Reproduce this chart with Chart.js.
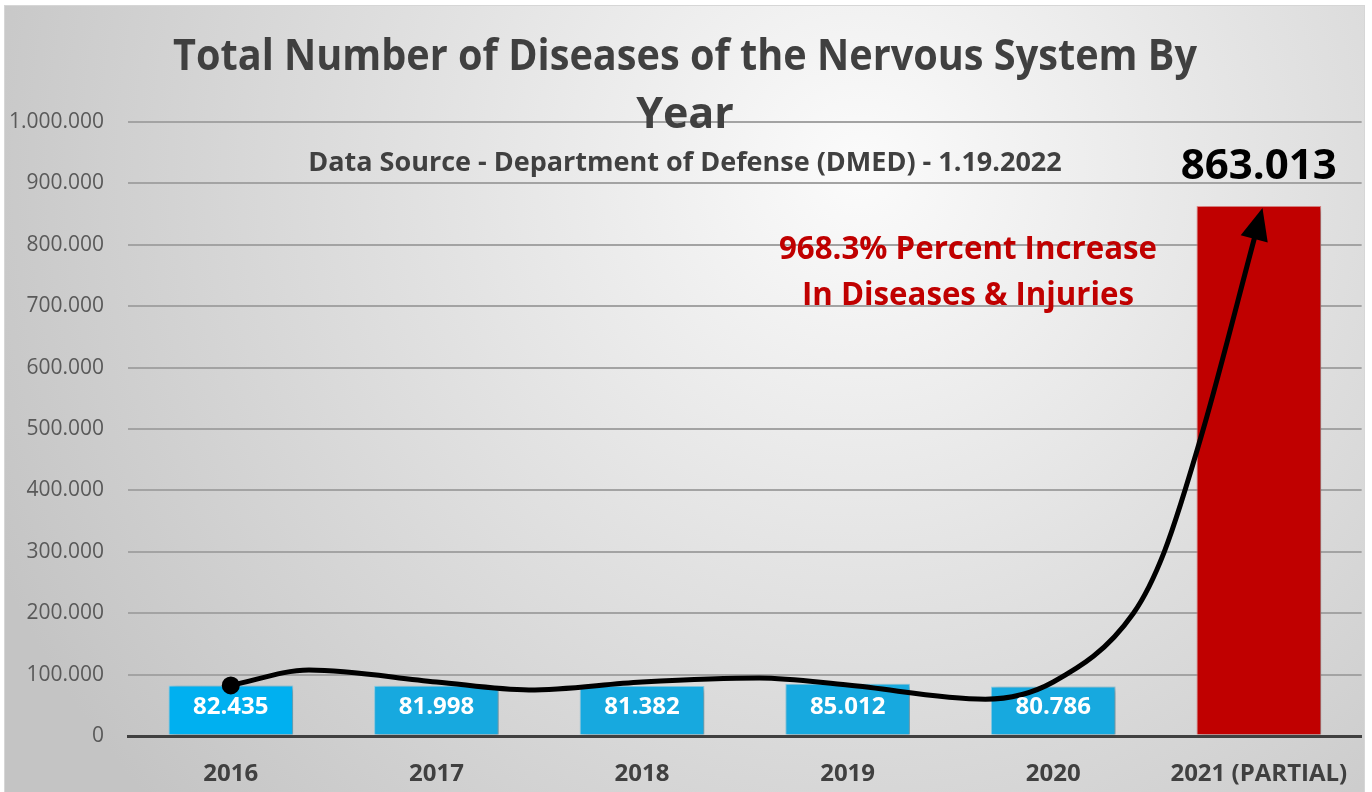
<!DOCTYPE html>
<html>
<head>
<meta charset="utf-8">
<script src="https://cdn.jsdelivr.net/npm/chart.js@4.4.1/dist/chart.umd.min.js"></script>
<style>
    html, body { margin: 0; padding: 0; background: #ffffff; }
    #wrap { width: 1372px; height: 792px; }
</style>
</head>
<body>
<div id="wrap"><canvas id="nervousChart" width="1372" height="792"></canvas></div>
<script>
// chart data
const years = ['2016', '2017', '2018', '2019', '2020', '2021 (PARTIAL)'];
const diseaseCounts = [82435, 81998, 81382, 85012, 80786, 863013];
const yMax = 1000000;
const yStep = 100000;

// hand drawn trend arrow (x in category units, y in cases)
const arrowX = [0, 0.38, 1, 1.45, 2, 2.57, 3, 3.67, 4, 4.39, 4.54, 4.73, 4.98];
const arrowY = [82435, 107500, 88000, 75000, 88000, 94500, 83000, 60000, 88000, 200000, 300000, 500000, 812700];

const titleLines = ['Total Number of Diseases of the Nervous System By', 'Year'];
const subtitle = 'Data Source - Department of Defense (DMED) - 1.19.2022';
const noteLines = ['968.3% Percent Increase', 'In Diseases & Injuries'];

const barColors = ['#00B0F0', '#17A9DF', '#17A9DF', '#17A9DF', '#17A9DF', '#C00000'];
const barBorders = ['#8ad8f5', '#8ad3ee', '#8ad3ee', '#8ad3ee', '#8ad3ee', '#e38a8a'];

const FONT = "'Open Sans', 'Noto Sans', sans-serif";
Chart.defaults.font.family = FONT;

function dotted(v) {
    return String(v).replace(/\B(?=(\d{3})+(?!\d))/g, '.');
}

// grey radial background with thin frame
const backgroundPlugin = {
    id: 'bgPanel',
    beforeDraw(chart) {
        const ctx = chart.ctx;
        ctx.save();
        ctx.fillStyle = '#ffffff';
        ctx.fillRect(0, 0, chart.width, chart.height);
        const g = ctx.createRadialGradient(860, 170, 0, 860, 170, 950);
        g.addColorStop(0, '#fbfbfb');
        g.addColorStop(0.45, '#e2e2e2');
        g.addColorStop(1, '#c4c4c4');
        ctx.fillStyle = g;
        ctx.fillRect(4, 5, 1361, 792);
        ctx.strokeStyle = '#d6d6d6';
        ctx.lineWidth = 1;
        ctx.strokeRect(4.5, 5.5, 1360, 792);
        ctx.restore();
    },
};

// soft shadow under the bars
const shadowPlugin = {
    id: 'barShadow',
    beforeDatasetDraw(chart, args) {
        if (args.index !== 0) return;
        const ctx = chart.ctx;
        ctx.save();
        ctx.shadowColor = 'rgba(0, 0, 0, 0.35)';
        ctx.shadowBlur = 6;
        ctx.shadowOffsetX = 3;
        ctx.shadowOffsetY = 2;
    },
    afterDatasetDraw(chart, args) {
        if (args.index !== 0) return;
        chart.ctx.restore();
    },
};

// value labels, arrow head, titles
const textPlugin = {
    id: 'texts',
    afterDatasetsDraw(chart) {
        const ctx = chart.ctx;
        const bars = chart.getDatasetMeta(0).data;
        ctx.save();
        ctx.textAlign = 'center';
        ctx.textBaseline = 'middle';
        bars.forEach((bar, i) => {
            if (i < bars.length - 1) {
                ctx.fillStyle = '#ffffff';
                ctx.font = 'bold 24px ' + FONT;
                ctx.fillText(dotted(diseaseCounts[i]), bar.x, bar.base - 27);
            } else {
                ctx.fillStyle = '#000000';
                ctx.font = 'bold 42px ' + FONT;
                ctx.fillText(dotted(diseaseCounts[i]), bar.x, bar.y - 39);
            }
        });

        // arrow head at the end of the curve
        const pts = chart.getDatasetMeta(1).data;
        const end = pts[pts.length - 1];
        let fx = end.cp1x, fy = end.cp1y;
        if (fx === undefined || (Math.abs(fx - end.x) < 0.5 && Math.abs(fy - end.y) < 0.5)) {
            fx = pts[pts.length - 2].x;
            fy = pts[pts.length - 2].y;
        }
        let dx = end.x - fx, dy = end.y - fy;
        const len = Math.hypot(dx, dy);
        dx /= len; dy /= len;
        const tipX = end.x + dx * 30, tipY = end.y + dy * 30;
        const bx = end.x - dx * 2, by = end.y - dy * 2;
        ctx.fillStyle = '#000000';
        ctx.beginPath();
        ctx.moveTo(tipX, tipY);
        ctx.lineTo(bx - dy * 14, by + dx * 14);
        ctx.lineTo(bx + dy * 14, by - dx * 14);
        ctx.closePath();
        ctx.fill();
        ctx.restore();
    },
    afterDraw(chart) {
        const ctx = chart.ctx;
        ctx.save();
        ctx.textAlign = 'center';
        ctx.textBaseline = 'middle';
        ctx.fillStyle = '#404040';
        ctx.font = 'bold 43px ' + FONT;
        ctx.fillText(titleLines[0], 685, 58, 1024);
        ctx.fillText(titleLines[1], 685, 116);
        ctx.font = 'bold 27px ' + FONT;
        ctx.fillText(subtitle, 685, 163, 760);
        ctx.fillStyle = '#C00000';
        ctx.font = 'bold 32px ' + FONT;
        ctx.fillText(noteLines[0], 968, 250, 378);
        ctx.fillText(noteLines[1], 968, 296, 332);
        ctx.restore();
    },
};

function createNervousChart() {
    const ctx = document.getElementById('nervousChart').getContext('2d');
    new Chart(ctx, {
        type: 'bar',
        data: {
            labels: years,
            datasets: [{
                label: 'Diseases of the Nervous System',
                data: diseaseCounts,
                backgroundColor: barColors,
                borderColor: barBorders,
                borderWidth: 1,
                barPercentage: 0.606,
                categoryPercentage: 1,
                grouped: false,
                order: 1,
            }, {
                type: 'line',
                label: 'trend',
                data: arrowX.map((x, i) => ({ x: x, y: arrowY[i] })),
                xAxisID: 'x2',
                borderColor: '#000000',
                borderWidth: 5,
                cubicInterpolationMode: 'monotone',
                pointRadius: arrowX.map((x, i) => (i === 0 ? 9 : 0)),
                pointBackgroundColor: '#000000',
                pointBorderWidth: 0,
                fill: false,
                clip: false,
                order: 0,
            }],
        },
        options: {
            responsive: false,
            animation: false,
            events: [],
            layout: {
                padding: { top: 122, right: 6, bottom: 0, left: 4 },
            },
            plugins: {
                legend: { display: false },
                tooltip: { enabled: false },
            },
            scales: {
                x: {
                    afterFit(scale) { scale.height = 56; },
                    grid: { display: false, drawTicks: false },
                    border: { display: true, color: '#404040', width: 3 },
                    ticks: {
                        color: '#404040',
                        font: { size: 24, weight: 'bold' },
                        padding: 24,
                    },
                },
                x2: {
                    type: 'linear',
                    display: false,
                    offset: false,
                    bounds: 'data',
                    min: -0.5,
                    max: 5.5,
                },
                y: {
                    min: 0,
                    max: yMax,
                    afterFit(scale) { scale.width = 124; },
                    border: { display: false },
                    grid: {
                        drawTicks: false,
                        color: (c) => (c.tick && c.tick.value === 0 ? '#404040' : '#a3a3a3'),
                        lineWidth: (c) => (c.tick && c.tick.value === 0 ? 3 : 2),
                    },
                    ticks: {
                        stepSize: yStep,
                        color: '#595959',
                        font: { size: 21 },
                        padding: 24,
                        callback: (v) => dotted(v),
                    },
                },
            },
        },
        plugins: [backgroundPlugin, shadowPlugin, textPlugin],
    });
}

document.addEventListener('DOMContentLoaded', () => {
    createNervousChart();
});
</script>
</body>
</html>
